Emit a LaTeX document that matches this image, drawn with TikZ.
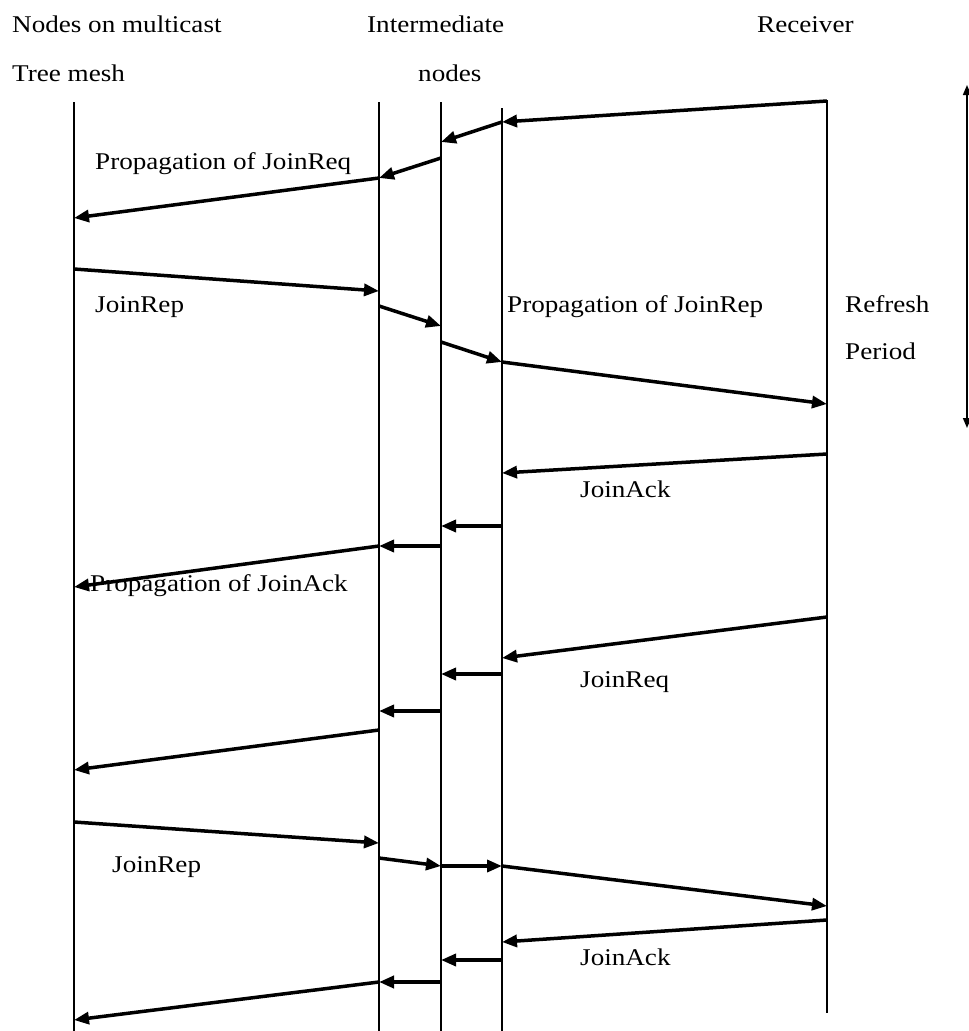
\documentclass[tikz,border=0pt]{standalone}
\usepackage{fontspec}
\setmainfont{Liberation Serif}[FakeStretch=1.13]
\usetikzlibrary{arrows.meta}
\begin{document}
\begin{tikzpicture}[x=1pt,y=-1pt,
  lifeline/.style={line width=1.6pt},
  msg/.style={line width=3.5pt,-{Triangle[length=15pt,width=12pt]}},
  period/.style={line width=1.6pt,{Triangle[length=10pt,width=8pt]}-{Triangle[length=10pt,width=8pt]}},
  lbl/.style={anchor=base west,inner sep=0pt,font=\fontsize{24}{28}\selectfont}]
\useasboundingbox (0,0) rectangle (969,1031);
\fill[white] (0,0) rectangle (969,1031);

% column headings
\node[lbl] (h1) at (12,32) {Nodes on multicast};
\node[lbl] (h2) at (12,81) {Tree mesh};
\node[lbl] (h3) at (367,32) {Intermediate};
\node[lbl] (h4) at (418,81) {nodes};
\node[lbl] (h5) at (757,32) {Receiver};

% lifelines
\path (74,102) coordinate (At) (74,1031) coordinate (Ab)
      (379,102) coordinate (Bt) (379,1031) coordinate (Bb)
      (441,102) coordinate (Ct) (441,1031) coordinate (Cb)
      (502,108) coordinate (Dt) (502,1031) coordinate (Db)
      (827,100) coordinate (Rt) (827,1013) coordinate (Rb);
\draw[lifeline] (At) -- (Ab);
\draw[lifeline] (Bt) -- (Bb);
\draw[lifeline] (Ct) -- (Cb);
\draw[lifeline] (Dt) -- (Db);
\draw[lifeline] (Rt) -- (Rb);

% first JoinReq
\path (827,101) coordinate (q1a) (502,122) coordinate (q1b)
      (441,142) coordinate (q2b)
      (441,158) coordinate (q3a) (379,178) coordinate (q3b)
      (74,218) coordinate (q4b);
\draw[msg] (q1a) -- (q1b);
\draw[msg] (q1b) -- (q2b);
\draw[msg] (q3a) -- (q3b);
\draw[msg] (q3b) -- (q4b);

% first JoinRep
\path (74,269) coordinate (p1a) (379,291) coordinate (p1b)
      (379,306) coordinate (p2a) (441,326) coordinate (p2b)
      (441,342) coordinate (p3a) (502,362) coordinate (p3b)
      (827,404) coordinate (p4b);
\draw[msg] (p1a) -- (p1b);
\draw[msg] (p2a) -- (p2b);
\draw[msg] (p3a) -- (p3b);
\draw[msg] (p3b) -- (p4b);

% first JoinAck
\path (827,454) coordinate (a1a) (502,473) coordinate (a1b)
      (502,526) coordinate (a2a) (441,526) coordinate (a2b)
      (441,546) coordinate (a3a) (379,546) coordinate (a3b)
      (74,587) coordinate (a4b);
\draw[msg] (a1a) -- (a1b);
\draw[msg] (a2a) -- (a2b);
\draw[msg] (a3a) -- (a3b);
\draw[msg] (a3b) -- (a4b);

% second JoinReq
\path (827,617) coordinate (r1a) (502,658) coordinate (r1b)
      (502,674) coordinate (r2a) (441,674) coordinate (r2b)
      (441,711) coordinate (r3a) (379,711) coordinate (r3b)
      (379,730) coordinate (r4a) (74,770) coordinate (r4b);
\draw[msg] (r1a) -- (r1b);
\draw[msg] (r2a) -- (r2b);
\draw[msg] (r3a) -- (r3b);
\draw[msg] (r4a) -- (r4b);

% second JoinRep
\path (74,822) coordinate (s1a) (379,843) coordinate (s1b)
      (379,858) coordinate (s2a) (441,866) coordinate (s2b)
      (502,866) coordinate (s3b) (827,906) coordinate (s4b);
\draw[msg] (s1a) -- (s1b);
\draw[msg] (s2a) -- (s2b);
\draw[msg] (s2b) -- (s3b);
\draw[msg] (s3b) -- (s4b);

% second JoinAck
\path (827,920) coordinate (k1a) (502,942) coordinate (k1b)
      (502,960) coordinate (k2a) (441,960) coordinate (k2b)
      (441,982) coordinate (k3a) (379,982) coordinate (k3b)
      (74,1020) coordinate (k4b);
\draw[msg] (k1a) -- (k1b);
\draw[msg] (k2a) -- (k2b);
\draw[msg,line width=4.5pt] (k3a) -- (k3b);
\draw[msg] (k3b) -- (k4b);

% refresh period
\path (967,85) coordinate (ft) (967,428) coordinate (fb);
\draw[period] (ft) -- (fb);

% message labels
\node[lbl] (l1) at (95,169) {Propagation of JoinReq};
\node[lbl] (l2) at (95,312) {JoinRep};
\node[lbl] (l3) at (507,312) {Propagation of JoinRep};
\node[lbl] (l4) at (845,312) {Refresh};
\node[lbl] (l5) at (845,359) {Period};
\node[lbl] (l6) at (580,497) {JoinAck};
\node[lbl] (l7) at (90,591) {Propagation of JoinAck};
\node[lbl] (l8) at (580,687) {JoinReq};
\node[lbl] (l9) at (112,872) {JoinRep};
\node[lbl] (l10) at (580,965) {JoinAck};
\end{tikzpicture}
\end{document}
